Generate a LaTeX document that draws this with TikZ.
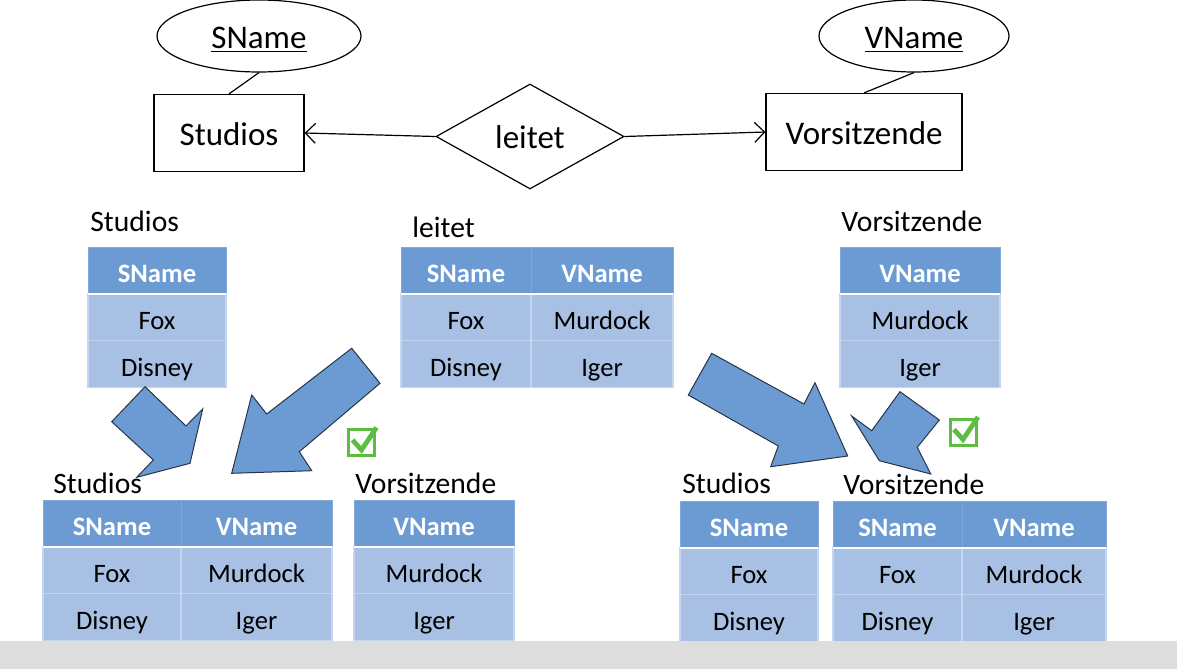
\documentclass[tikz,border=0pt]{standalone}
\usepackage{fontspec}
\setmainfont{Carlito}
\usepackage{xcolor}
\usetikzlibrary{shapes.geometric}
\usetikzlibrary{positioning}
\usetikzlibrary{arrows.meta,calc}

\definecolor{hdrblue}{RGB}{107,155,210}
\definecolor{rowblue}{RGB}{168,192,227}
\definecolor{sepblue}{RGB}{198,214,238}
\definecolor{arrowline}{RGB}{40,52,70}
\definecolor{tickgreen}{RGB}{92,190,64}
\definecolor{bandgray}{RGB}{220,221,220}

\newcommand{\erfont}{\fontsize{16.5}{19}\selectfont}
\newcommand{\tabfont}{\fontsize{14.8}{17}\selectfont}
\newcommand{\cellfont}{\fontsize{13.3}{15}\selectfont}

\begin{document}
\begin{tikzpicture} [
    x=0.5pt, y=-0.5pt,
    entity/.style   = { rectangle, draw, line width=0.6pt, minimum height=38.5pt,
                        text height=12pt, text depth=0pt, font=\erfont },
    attrib/.style   = { ellipse, draw, line width=0.6pt, minimum height=36pt,
                        text height=12pt, text depth=0pt, font=\erfont },
    relation/.style = { diamond, draw, line width=0.6pt, inner sep=0pt,
                        minimum width=94pt, minimum height=52.5pt,
                        text height=12pt, text depth=0pt, font=\erfont },
    relline/.style  = { draw, line width=0.6pt, -{Straight Barb[length=5pt,width=10pt]} },
    tabname/.style  = { inner sep=0pt, anchor=base west, font=\tabfont },
    hcell/.style    = { rectangle, fill=hdrblue, draw=hdrblue!85!white, line width=0.5pt,
                        text=white, font=\cellfont\bfseries, minimum height=23.4pt,
                        text height=13.5pt, text depth=1.4pt,
                        inner sep=0pt, outer sep=0pt },
    dcell/.style    = { rectangle, fill=rowblue, draw=sepblue, line width=0.6pt,
                        font=\cellfont, minimum height=23.4pt,
                        text height=13.5pt, text depth=1.4pt,
                        inner sep=0pt, outer sep=0pt },
    hdrline/.style  = { draw=white, line width=1.1pt },
    blockarrow/.style = { fill=hdrblue, draw=arrowline, line width=0.5pt, line join=miter },
    tickbox/.style  = { rectangle, draw=tickgreen, line width=1.5pt, minimum size=13pt,
                        inner sep=0pt },
    tickmark/.style = { draw=tickgreen, line width=2.4pt, line join=miter },
  ]
  \useasboundingbox (0,0) rectangle (1177,669);

  % ER diagram
  \node (sname) [attrib, minimum width=102pt] at (259,36) {\underline{SName}};
  \node (studios) [entity, minimum width=75pt] at (229,133) {Studios};
  \node (leitet) [relation] at (530,136.5) {leitet};
  \node (vors) [entity, minimum width=98pt] at (864,132) {Vorsitzende};
  \node (vname) [attrib, minimum width=95pt] at (914,36) {\underline{VName}};

  \draw[line width=0.6pt] (sname.south) -- (studios.north);
  \draw[line width=0.6pt] (vname.south) -- (vors.north);
  \path[relline] (leitet.west) -- (studios.east);
  \path[relline] (leitet.east) -- (vors.west);

  % Tabellen oben
  \node (st-name) [tabname] at (90,231) {Studios};
  \node (st-h) [hcell, minimum width=69pt, anchor=north west] at (88,247) {SName};
  \node (st-1) [dcell, minimum width=69pt, below=0pt of st-h] {Fox};
  \node (st-2) [dcell, minimum width=69pt, below=0pt of st-1] {Disney};
  \draw[hdrline] (st-h.south west) -- (st-h.south east);

  \node (lt-name) [tabname] at (412,237) {leitet};
  \node (lt-h1) [hcell, minimum width=65pt, anchor=north west] at (401,247) {SName};
  \node (lt-h2) [hcell, minimum width=71pt, right=0pt of lt-h1] {VName};
  \node (lt-11) [dcell, minimum width=65pt, below=0pt of lt-h1] {Fox};
  \node (lt-12) [dcell, minimum width=71pt, below=0pt of lt-h2] {Murdock};
  \node (lt-21) [dcell, minimum width=65pt, below=0pt of lt-11] {Disney};
  \node (lt-22) [dcell, minimum width=71pt, below=0pt of lt-12] {Iger};
  \draw[hdrline] (lt-h1.south west) -- (lt-h2.south east);

  \node (vs-name) [tabname] at (841,231) {Vorsitzende};
  \node (vs-h) [hcell, minimum width=80pt, anchor=north west] at (840,247) {VName};
  \node (vs-1) [dcell, minimum width=80pt, below=0pt of vs-h] {Murdock};
  \node (vs-2) [dcell, minimum width=80pt, below=0pt of vs-1] {Iger};
  \draw[hdrline] (vs-h.south west) -- (vs-h.south east);

  % Tabellen unten links
  \node (bst-name) [tabname] at (53,493) {Studios};
  \node (bst-h1) [hcell, minimum width=69pt, anchor=north west] at (43,500) {SName};
  \node (bst-h2) [hcell, minimum width=75.5pt, right=0pt of bst-h1] {VName};
  \node (bst-11) [dcell, minimum width=69pt, below=0pt of bst-h1] {Fox};
  \node (bst-12) [dcell, minimum width=75.5pt, below=0pt of bst-h2] {Murdock};
  \node (bst-21) [dcell, minimum width=69pt, below=0pt of bst-11] {Disney};
  \node (bst-22) [dcell, minimum width=75.5pt, below=0pt of bst-12] {Iger};
  \draw[hdrline] (bst-h1.south west) -- (bst-h2.south east);

  \node (bvs-name) [tabname] at (355,493) {Vorsitzende};
  \node (bvs-h) [hcell, minimum width=80pt, anchor=north west] at (354,500) {VName};
  \node (bvs-1) [dcell, minimum width=80pt, below=0pt of bvs-h] {Murdock};
  \node (bvs-2) [dcell, minimum width=80pt, below=0pt of bvs-1] {Iger};
  \draw[hdrline] (bvs-h.south west) -- (bvs-h.south east);

  % Tabellen unten rechts
  \node (rst-name) [tabname] at (682,493) {Studios};
  \node (rst-h) [hcell, minimum width=69pt, anchor=north west] at (680,501) {SName};
  \node (rst-1) [dcell, minimum width=69pt, below=0pt of rst-h] {Fox};
  \node (rst-2) [dcell, minimum width=69pt, below=0pt of rst-1] {Disney};
  \draw[hdrline] (rst-h.south west) -- (rst-h.south east);

  \node (rvs-name) [tabname] at (843,494) {Vorsitzende};
  \node (rvs-h1) [hcell, minimum width=64.5pt, anchor=north west] at (833,501) {SName};
  \node (rvs-h2) [hcell, minimum width=72pt, right=0pt of rvs-h1] {VName};
  \node (rvs-11) [dcell, minimum width=64.5pt, below=0pt of rvs-h1] {Fox};
  \node (rvs-12) [dcell, minimum width=72pt, below=0pt of rvs-h2] {Murdock};
  \node (rvs-21) [dcell, minimum width=64.5pt, below=0pt of rvs-11] {Disney};
  \node (rvs-22) [dcell, minimum width=72pt, below=0pt of rvs-12] {Iger};
  \draw[hdrline] (rvs-h1.south west) -- (rvs-h2.south east);

  % Blockpfeile
  \filldraw[blockarrow] (145,386.7) -- (186,426) -- (202.7,409) -- (190,463.3)
    -- (136.7,477.3) -- (153.3,460) -- (111.7,421.7) -- cycle;
  \filldraw[blockarrow] (351.7,348.3) -- (380,383.3) -- (299.3,451.7) -- (311.7,470.7)
    -- (231.7,473.3) -- (251.7,395) -- (266.7,414) -- cycle;
  \filldraw[blockarrow] (711.7,353.3) -- (804,404) -- (815,382.7) -- (847.7,456)
    -- (770.7,466.7) -- (778.3,446) -- (688.3,395) -- cycle;
  \filldraw[blockarrow] (900,391.7) -- (939.3,420) -- (917.3,447.3) -- (930.7,474)
    -- (879.3,460.7) -- (851.7,416) -- (871.7,430.7) -- cycle;

  % Haken
  \node (ok1) [tickbox] at (361.5,442.5) {};
  \draw[tickmark] (ok1.center) ++(-9,-2.5) -- ++(9,10) -- ++(15,-22.5);
  \node (ok2) [tickbox] at (963,432) {};
  \draw[tickmark] (ok2.center) ++(-9,-2.5) -- ++(9,10) -- ++(15,-22.5);

  % grauer Rand unten
  \fill[bandgray] (0,641) rectangle (1177,669);
\end{tikzpicture}
\end{document}
